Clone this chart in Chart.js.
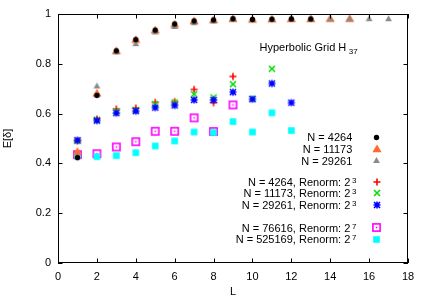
<!DOCTYPE html>
<html><head><meta charset="utf-8">
<script src="https://cdn.jsdelivr.net/npm/chart.js@4"></script>
<style>html,body{margin:0;padding:0;background:#fff;}canvas{display:block;}</style>
</head><body>
<canvas id="c" width="429" height="301"></canvas>
<script>
// ---- data ----
const xTicks = [0, 2, 4, 6, 8, 10, 12, 14, 16, 18];
const yTicks = [0, 0.2, 0.4, 0.6, 0.8, 1];
const L = [1, 2, 3, 4, 5, 6, 7, 8, 9, 10, 11, 12, 13, 14, 15, 16, 17];
const n4264 = [0.423, 0.673, 0.852, 0.897, 0.935, 0.960, 0.972, 0.976, 0.981, 0.978, 0.979, 0.980, 0.980];
const n11173 = [0.447, 0.681, 0.852, 0.897, 0.935, 0.958, 0.972, 0.976, 0.981, 0.978, 0.979, 0.980, 0.980, 0.981, 0.981];
const n29261 = [0.428, 0.711, 0.848, 0.881, 0.928, 0.950, 0.965, 0.972, 0.979, 0.977, 0.978, 0.980, 0.980, 0.981, 0.981, 0.981, 0.981];
const r4264 = [0.490, 0.578, 0.618, 0.622, 0.645, 0.648, 0.697, 0.644, 0.749];
const r11173 = [0.490, 0.575, 0.610, 0.615, 0.638, 0.645, 0.678, 0.665, 0.718, 0.660, 0.780];
const r29261 = [0.493, 0.572, 0.602, 0.610, 0.624, 0.633, 0.655, 0.655, 0.686, 0.658, 0.721, 0.644];
const r76616 = [0.435, 0.439, 0.466, 0.487, 0.529, 0.529, 0.583, 0.528, 0.635];
const r525169 = [0.430, 0.427, 0.431, 0.443, 0.470, 0.490, 0.526, 0.524, 0.568, 0.526, 0.603, 0.532];
const seriesLabels = ['N = 4264', 'N = 11173', 'N = 29261',
  'N = 4264, Renorm: 2', 'N = 11173, Renorm: 2', 'N = 29261, Renorm: 2',
  'N = 76616, Renorm: 2', 'N = 525169, Renorm: 2'];
const seriesSup = ['', '', '', '3', '3', '3', '7', '7'];
const titleMain = 'Hyperbolic Grid H';
const titleSub = '37';
const xTitle = 'L';
const yTitle = 'E[δ]';

// ---- markers ----
function mk(size, fn) {
  const c = document.createElement('canvas');
  c.width = size; c.height = size;
  const g = c.getContext('2d');
  fn(g, size / 2);
  return c;
}
const FONT = '"Liberation Sans", Arial, sans-serif';
const mCircle = mk(9, (g, m) => { g.fillStyle = '#000'; g.beginPath(); g.arc(m, m, 2.7, 0, Math.PI * 2); g.fill(); });
const mTriO = mk(12, (g, m) => { g.fillStyle = '#ff6a2a'; g.beginPath(); g.moveTo(m, m - 4.6); g.lineTo(m + 4.6, m + 3.2); g.lineTo(m - 4.6, m + 3.2); g.closePath(); g.fill(); });
const mTriG = mk(9, (g, m) => { g.fillStyle = '#8a8a8a'; g.beginPath(); g.moveTo(m, m - 3.4); g.lineTo(m + 3.4, m + 2.6); g.lineTo(m - 3.4, m + 2.6); g.closePath(); g.fill(); });
const mPlus = mk(10, (g, m) => { g.strokeStyle = '#ff0000'; g.lineWidth = 1.6; g.beginPath(); g.moveTo(m - 3.5, m); g.lineTo(m + 3.5, m); g.moveTo(m, m - 3.5); g.lineTo(m, m + 3.5); g.stroke(); });
const mX = mk(10, (g, m) => { g.strokeStyle = '#00e000'; g.lineWidth = 1.6; g.beginPath(); g.moveTo(m - 3, m - 3); g.lineTo(m + 3, m + 3); g.moveTo(m + 3, m - 3); g.lineTo(m - 3, m + 3); g.stroke(); });
const mStar = mk(10, (g, m) => { g.strokeStyle = '#0000ff'; g.lineWidth = 1.6; g.beginPath(); g.moveTo(m - 3.5, m); g.lineTo(m + 3.5, m); g.moveTo(m, m - 3.5); g.lineTo(m, m + 3.5); g.moveTo(m - 3, m - 3); g.lineTo(m + 3, m + 3); g.moveTo(m + 3, m - 3); g.lineTo(m - 3, m + 3); g.stroke(); });
const mBox = mk(11, (g, m) => { g.strokeStyle = '#ff00ff'; g.lineWidth = 1.6; g.strokeRect(m - 3.6, m - 3.6, 7.2, 7.2); g.fillStyle = '#ff00ff'; g.fillRect(m - 0.75, m - 0.75, 1.5, 1.5); });
const mSq = mk(9, (g, m) => { g.fillStyle = '#00ffff'; g.fillRect(m - 3.3, m - 3.3, 6.6, 6.6); });
const markers = [mCircle, mTriO, mTriG, mPlus, mX, mStar, mBox, mSq];
const values = [n4264, n11173, n29261, r4264, r11173, r29261, r76616, r525169];
// lower value = drawn on top
const drawOrder = [0, 2, 1, 5, 4, 3, 7, 6];

const datasets = values.map((vals, i) => ({
  label: seriesLabels[i] + seriesSup[i],
  data: vals.map((v, j) => ({ x: L[j], y: v })),
  pointStyle: markers[i],
  pointRadius: 4,
  showLine: false,
  order: drawOrder[i]
}));

const LEFT = 58, TOP = 14, RIGHT = 408, BOTTOM = 263;

const decor = {
  id: 'decor',
  afterDraw(chart) {
    const ctx = chart.ctx, a = chart.chartArea;
    const xs = chart.scales.x, ys = chart.scales.y;
    ctx.save();
    ctx.strokeStyle = '#000'; ctx.lineWidth = 1;
    ctx.strokeRect(a.left + 0.5, a.top + 0.5, a.right - a.left - 1, a.bottom - a.top - 1);
    ctx.beginPath();
    xTicks.forEach(v => {
      const x = Math.round(xs.getPixelForValue(v)) + 0.5;
      ctx.moveTo(x, a.bottom); ctx.lineTo(x, a.bottom - 4.5);
      ctx.moveTo(x, a.top); ctx.lineTo(x, a.top + 4.5);
    });
    yTicks.forEach(v => {
      const y = Math.round(ys.getPixelForValue(v)) + 0.5;
      ctx.moveTo(a.left, y); ctx.lineTo(a.left + 4.5, y);
      ctx.moveTo(a.right, y); ctx.lineTo(a.right - 4.5, y);
    });
    ctx.stroke();

    ctx.fillStyle = '#000';
    ctx.font = '11px ' + FONT;
    // axis titles
    ctx.textAlign = 'center'; ctx.textBaseline = 'middle';
    ctx.fillText(xTitle, (a.left + a.right) / 2, 292);
    ctx.save();
    ctx.translate(8, (a.top + a.bottom) / 2);
    ctx.rotate(-Math.PI / 2);
    ctx.fillText(yTitle, 0, 0);
    ctx.restore();
    // plot label
    ctx.textAlign = 'left'; ctx.textBaseline = 'alphabetic';
    ctx.fillText(titleMain, 259.5, 50.7);
    const tw = ctx.measureText(titleMain).width;
    ctx.font = '8px ' + FONT;
    ctx.fillText(titleSub, 259.5 + tw + 2.5, 54.3);
    // key
    const rowsY = [137.3, 148.9, 160.5, 181.6, 193.2, 204.8, 227.6, 239.2];
    rowsY.forEach((y, i) => {
      const sup = seriesSup[i];
      ctx.font = '11px ' + FONT;
      ctx.textAlign = 'right'; ctx.textBaseline = 'alphabetic';
      const xr = sup ? 350.3 : 352.3;
      ctx.fillText(seriesLabels[i], xr, y + 4);
      if (sup) {
        ctx.font = '8px ' + FONT; ctx.textAlign = 'left';
        ctx.fillText(sup, xr + 1.8, y + 1);
      }
      const m = markers[i];
      ctx.drawImage(m, Math.round(376.7 - m.width / 2), Math.round(y - m.height / 2));
    });
    ctx.restore();
  }
};

new Chart(document.getElementById('c'), {
  type: 'scatter',
  data: { datasets },
  options: {
    responsive: false,
    animation: false,
    devicePixelRatio: 1,
    layout: { padding: { left: 0, top: TOP, right: 429 - RIGHT, bottom: 0 } },
    plugins: { legend: { display: false }, tooltip: { enabled: false } },
    scales: {
      x: {
        type: 'linear', min: 0, max: 18,
        afterBuildTicks: s => { s.ticks = xTicks.map(v => ({ value: v })); },
        afterFit: s => { s.height = 301 - BOTTOM; },
        grid: { display: false, drawTicks: false },
        border: { display: false },
        ticks: { padding: 7, color: '#000', font: { family: FONT, size: 11 }, maxRotation: 0, autoSkip: false,
                 callback: v => String(v) }
      },
      y: {
        type: 'linear', min: 0, max: 1,
        afterBuildTicks: s => { s.ticks = yTicks.map(v => ({ value: v })); },
        afterFit: s => { s.width = LEFT; },
        grid: { display: false, drawTicks: false },
        border: { display: false },
        ticks: { padding: 7, color: '#000', font: { family: FONT, size: 11 }, autoSkip: false,
                 callback: v => String(+v.toFixed(1)) }
      }
    }
  },
  plugins: [decor]
});
</script>
</body></html>
